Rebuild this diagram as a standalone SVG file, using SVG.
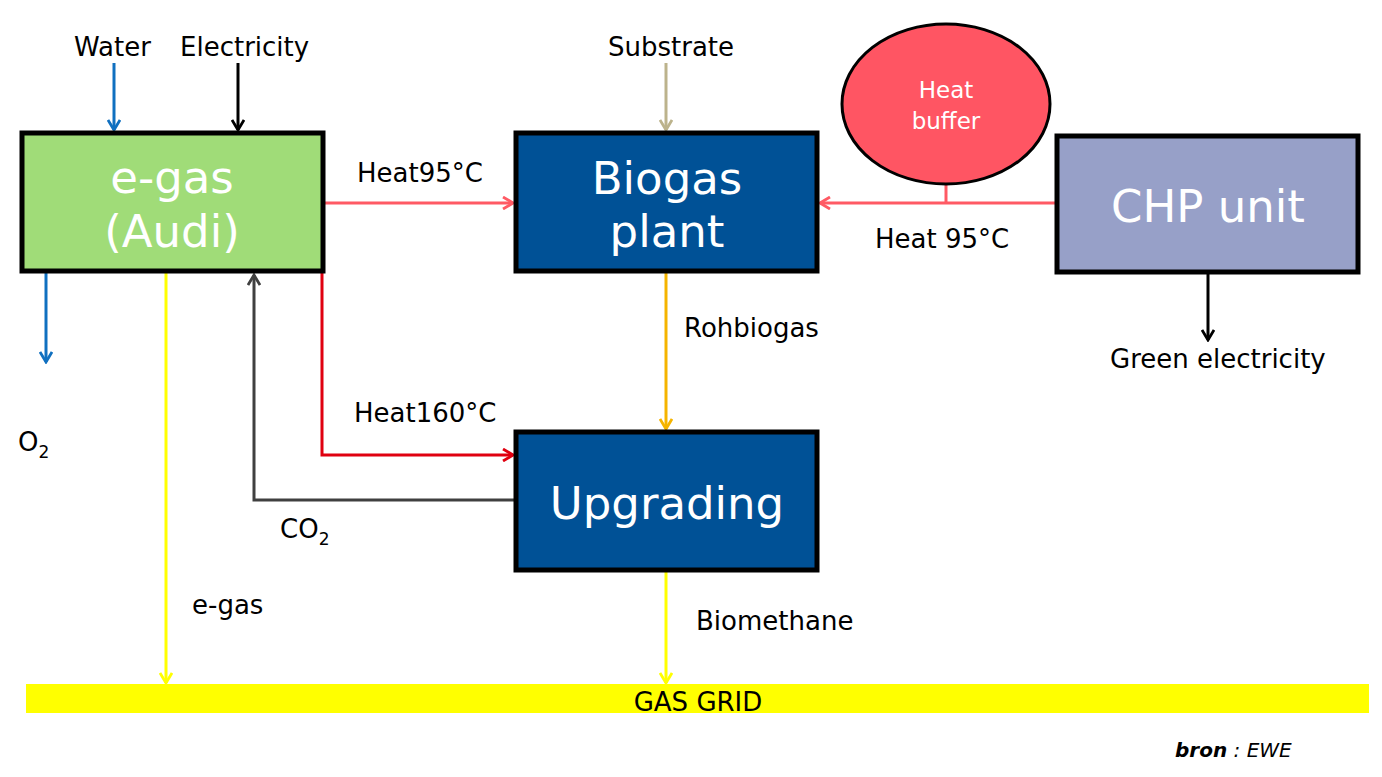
<svg xmlns="http://www.w3.org/2000/svg" width="1382" height="777" viewBox="0 0 1382 777">
<style>
.lbl{font-family:"DejaVu Sans",Verdana,sans-serif;font-size:26px;fill:#000}
.big{font-family:"DejaVu Sans",Verdana,sans-serif;font-size:45px;fill:#fff;text-anchor:middle}
.box{stroke:#000;stroke-width:5}
.c{fill:none;stroke-width:3}
.hb{font-family:"DejaVu Sans",Verdana,sans-serif;font-size:23px;fill:#fff;text-anchor:middle}
</style>
<defs>
<marker id="ab" viewBox="0 0 14 14" refX="12" refY="7" markerWidth="14" markerHeight="14" markerUnits="userSpaceOnUse" orient="auto"><path d="M2,1 L12,7 L2,13" fill="none" stroke="#1070C0" stroke-width="2.8"/></marker>
<marker id="ak" viewBox="0 0 14 14" refX="12" refY="7" markerWidth="14" markerHeight="14" markerUnits="userSpaceOnUse" orient="auto"><path d="M2,1 L12,7 L2,13" fill="none" stroke="#000" stroke-width="2.8"/></marker>
<marker id="at" viewBox="0 0 14 14" refX="12" refY="7" markerWidth="14" markerHeight="14" markerUnits="userSpaceOnUse" orient="auto"><path d="M2,1 L12,7 L2,13" fill="none" stroke="#BCB38C" stroke-width="2.8"/></marker>
<marker id="ay" viewBox="0 0 14 14" refX="12" refY="7" markerWidth="14" markerHeight="14" markerUnits="userSpaceOnUse" orient="auto"><path d="M2,1 L12,7 L2,13" fill="none" stroke="#FFFF00" stroke-width="2.8"/></marker>
<marker id="ag" viewBox="0 0 14 14" refX="12" refY="7" markerWidth="14" markerHeight="14" markerUnits="userSpaceOnUse" orient="auto"><path d="M2,1 L12,7 L2,13" fill="none" stroke="#404040" stroke-width="2.8"/></marker>
<marker id="ar" viewBox="0 0 14 14" refX="12" refY="7" markerWidth="14" markerHeight="14" markerUnits="userSpaceOnUse" orient="auto"><path d="M2,1 L12,7 L2,13" fill="none" stroke="#E00010" stroke-width="2.8"/></marker>
<marker id="ap" viewBox="0 0 14 14" refX="12" refY="7" markerWidth="14" markerHeight="14" markerUnits="userSpaceOnUse" orient="auto"><path d="M2,1 L12,7 L2,13" fill="none" stroke="#FF5A64" stroke-width="2.8"/></marker>
<marker id="ao" viewBox="0 0 14 14" refX="12" refY="7" markerWidth="14" markerHeight="14" markerUnits="userSpaceOnUse" orient="auto"><path d="M2,1 L12,7 L2,13" fill="none" stroke="#F5B400" stroke-width="2.8"/></marker>
</defs>
<rect width="1382" height="777" fill="#fff"/>

<g id="gasgrid">
<rect x="26" y="684" width="1343" height="29" fill="#FFFF00"/>
<text class="lbl" x="698" y="711" text-anchor="middle" font-size="27">GAS GRID</text>
</g>

<g id="connectors">
<line class="c" x1="114" y1="63" x2="114" y2="130" stroke="#1070C0" marker-end="url(#ab)"/>
<line class="c" x1="238" y1="63" x2="238" y2="130" stroke="#000" marker-end="url(#ak)"/>
<line class="c" x1="666" y1="63" x2="666" y2="130" stroke="#BCB38C" marker-end="url(#at)"/>
<line class="c" x1="46" y1="273" x2="46" y2="362" stroke="#1070C0" marker-end="url(#ab)"/>
<line class="c" x1="166" y1="273" x2="166" y2="683" stroke="#FFFF00" marker-end="url(#ay)"/>
<polyline class="c" points="516,500 254,500 254,275" stroke="#404040" marker-end="url(#ag)"/>
<polyline class="c" points="322,273 322,455 513,455" stroke="#E00010" marker-end="url(#ar)"/>
<line class="c" x1="325" y1="203" x2="513" y2="203" stroke="#FF5A64" marker-end="url(#ap)"/>
<line class="c" x1="1055" y1="203" x2="820" y2="203" stroke="#FF5A64" marker-end="url(#ap)"/>
<line class="c" x1="946" y1="184" x2="946" y2="203" stroke="#FF5A64"/>
<line class="c" x1="666" y1="273" x2="666" y2="429" stroke="#F5B400" marker-end="url(#ao)"/>
<line class="c" x1="666" y1="572" x2="666" y2="683" stroke="#FFFF00" marker-end="url(#ay)"/>
<line class="c" x1="1208" y1="274" x2="1208" y2="340" stroke="#000" marker-end="url(#ak)"/>
</g>

<g id="egas">
<rect class="box" x="22" y="133" width="301" height="138" fill="#A0DC78"/>
<text class="big" x="172" y="193">e-gas</text>
<text class="big" x="172" y="247">(Audi)</text>
</g>

<g id="biogas">
<rect class="box" x="516" y="133" width="301" height="138" fill="#005196"/>
<text class="big" x="667" y="194">Biogas</text>
<text class="big" x="667" y="247">plant</text>
</g>

<g id="upgrading">
<rect class="box" x="516" y="432" width="301" height="138" fill="#005196"/>
<text class="big" x="667" y="519">Upgrading</text>
</g>

<g id="chp">
<rect class="box" x="1057" y="136" width="301" height="136" fill="#97A0C8"/>
<text class="big" x="1208" y="222">CHP unit</text>
</g>

<g id="heatbuffer">
<ellipse cx="946" cy="104" rx="104" ry="80" fill="#FF5563" stroke="#000" stroke-width="3"/>
<text class="hb" x="946" y="98">Heat</text>
<text class="hb" x="946" y="129">buffer</text>
</g>

<g id="labels">
<text class="lbl" x="74" y="56">Water</text>
<text class="lbl" x="180" y="56">Electricity</text>
<text class="lbl" x="608" y="56">Substrate</text>
<text class="lbl" x="357" y="182">Heat95°C</text>
<text class="lbl" x="875" y="248">Heat 95°C</text>
<text class="lbl" x="684" y="337">Rohbiogas</text>
<text class="lbl" x="1110" y="368">Green electricity</text>
<text class="lbl" x="354" y="422">Heat160°C</text>
<text class="lbl" x="18" y="451">O<tspan font-size="17" dy="7">2</tspan></text>
<text class="lbl" x="280" y="538">CO<tspan font-size="17" dy="7">2</tspan></text>
<text class="lbl" x="192" y="614">e-gas</text>
<text class="lbl" x="696" y="630">Biomethane</text>
<text x="1175" y="757" style="font-family:'DejaVu Sans',Verdana,sans-serif;font-size:20px;font-style:italic;fill:#000"><tspan font-weight="bold">bron</tspan> : EWE</text>
</g>
</svg>
